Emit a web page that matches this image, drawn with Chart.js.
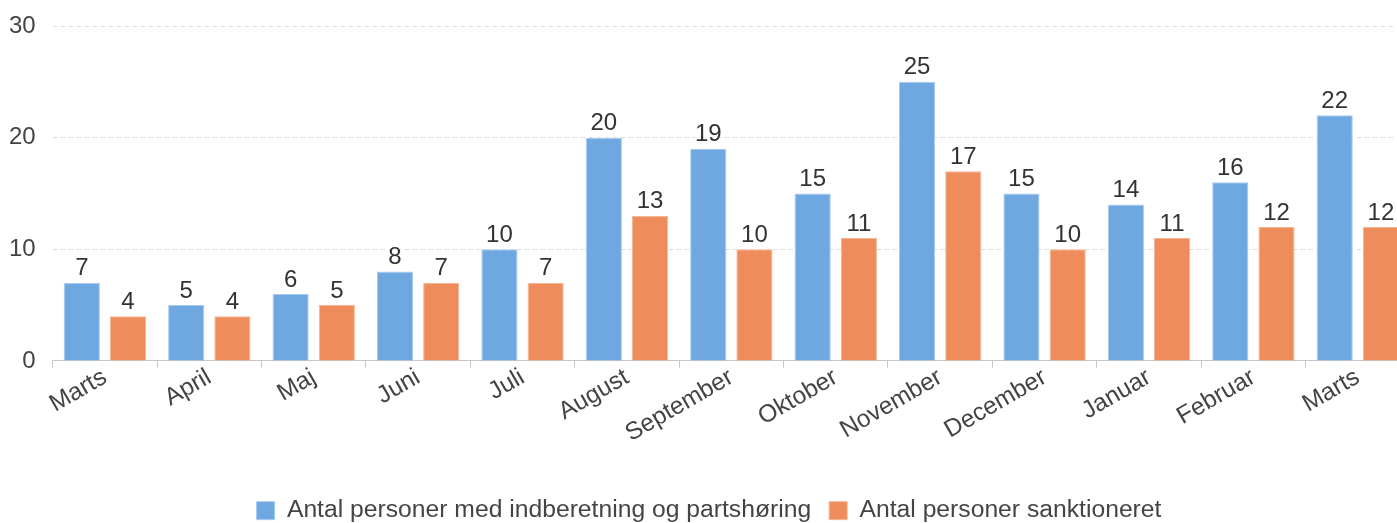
<!DOCTYPE html>
<html lang="da">
<head>
    <meta charset="UTF-8">
    <title>Indberetninger og sanktioner</title>
    <style>
        body {
            margin: 0;
            padding: 0;
            background: #ffffff;
            overflow: hidden;
        }
        .wrap {
            width: 1397px;
            height: 523px;
            overflow: hidden;
        }
        .chart-box {
            position: relative;
            width: 1418px;
            height: 523px;
        }
    </style>
    <script src="https://cdn.jsdelivr.net/npm/chart.js"></script>
</head>
<body>
    <div class="wrap">
        <div class="chart-box">
            <canvas id="sanktionChart"></canvas>
        </div>
    </div>

    <script>
        // Data
        const maaneder = ['Marts', 'April', 'Maj', 'Juni', 'Juli', 'August', 'September', 'Oktober', 'November', 'December', 'Januar', 'Februar', 'Marts'];
        const indberetninger = [7, 5, 6, 8, 10, 20, 19, 15, 25, 15, 14, 16, 22];
        const sanktioneret = [4, 4, 5, 7, 7, 13, 10, 11, 17, 10, 11, 12, 12];
        const yTicks = [0, 10, 20, 30];

        const fontFamily = '"Liberation Sans", Arial, sans-serif';

        // tal over søjlerne
        const barLabels = {
            id: 'barLabels',
            afterDatasetsDraw(chart) {
                const ctx = chart.ctx;
                ctx.save();
                ctx.font = '24px ' + fontFamily;
                ctx.fillStyle = '#333333';
                ctx.textAlign = 'center';
                ctx.textBaseline = 'bottom';
                chart.data.datasets.forEach((ds, i) => {
                    chart.getDatasetMeta(i).data.forEach((bar, j) => {
                        ctx.fillText(ds.data[j], bar.x, bar.y - 2);
                    });
                });
                ctx.restore();
            }
        };

        const ctx = document.getElementById('sanktionChart').getContext('2d');
        new Chart(ctx, {
            type: 'bar',
            data: {
                labels: maaneder,
                datasets: [{
                    label: 'Antal personer med indberetning og partshøring',
                    data: indberetninger,
                    backgroundColor: '#6fa8e1',
                    borderColor: '#a6cbf0',
                    borderWidth: 1,
                    categoryPercentage: 0.885,
                    barPercentage: 0.783
                }, {
                    label: 'Antal personer sanktioneret',
                    data: sanktioneret,
                    backgroundColor: '#ef8c5b',
                    borderColor: '#f6b595',
                    borderWidth: 1,
                    categoryPercentage: 0.885,
                    barPercentage: 0.783
                }]
            },
            options: {
                responsive: true,
                maintainAspectRatio: false,
                animation: false,
                layout: {
                    padding: { left: 8, top: 26, right: 8, bottom: -10 }
                },
                plugins: {
                    tooltip: { enabled: false },
                    legend: {
                        position: 'bottom',
                        labels: {
                            boxWidth: 18,
                            boxHeight: 18,
                            padding: 18,
                            color: '#444444',
                            font: { family: fontFamily, size: 24.7 }
                        }
                    }
                },
                scales: {
                    x: {
                        afterFit(scale) {
                            scale.height += 37;
                        },
                        grid: {
                            display: true,
                            drawOnChartArea: false,
                            tickLength: 7,
                            color: '#c8c8c8'
                        },
                        border: { color: '#c8c8c8' },
                        ticks: {
                            minRotation: 30,
                            maxRotation: 30,
                            autoSkip: false,
                            padding: -5,
                            color: '#444444',
                            font: { family: fontFamily, size: 24.5 }
                        }
                    },
                    y: {
                        min: 0,
                        max: 30,
                        afterBuildTicks(scale) {
                            scale.ticks = yTicks.map(v => ({ value: v }));
                        },
                        afterFit(scale) {
                            scale.width -= 16;
                            scale.paddingTop = 0;
                        },
                        grid: {
                            color: '#dddddd',
                            drawTicks: false
                        },
                        border: { display: false, dash: [4, 4] },
                        ticks: {
                            padding: 17,
                            color: '#444444',
                            font: { family: fontFamily, size: 24 }
                        }
                    }
                }
            },
            plugins: [barLabels]
        });
    </script>
</body>
</html>
